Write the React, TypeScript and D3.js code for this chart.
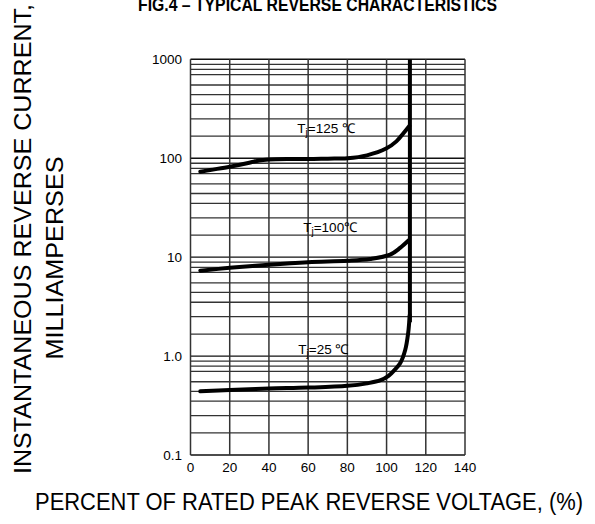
import React from "react";
import * as d3 from "d3";

const xTicks = [0, 20, 40, 60, 80, 100, 120, 140];
const yTicks = [0.1, 1, 10, 100, 1000];
const yTickLabels = ["0.1", "1.0", "10", "100", "1000"];
const gridMultipliers = [1.67, 2.5, 3.5, 4.4, 5.5, 7.0, 7.9, 8.9];

const pct125 = [5, 10, 20, 30, 35, 40, 50, 60, 70, 80, 90, 100, 105, 108.6, 111.6];
const cur125 = [73, 76, 82, 90, 95, 97, 98, 98, 99, 100, 107, 126, 148, 179, 212];

const pct100 = [5, 20, 40, 60, 80, 91.6, 101.8, 106.9, 111.3];
const cur100 = [7.3, 7.8, 8.4, 8.9, 9.2, 9.6, 10.6, 12.4, 14.8];

const pct25 = [5, 20, 40, 60, 80, 90, 97, 101, 104, 107, 109.5, 111, 111.8];
const cur25 = [0.44, 0.455, 0.47, 0.48, 0.5, 0.53, 0.57, 0.63, 0.72, 0.85, 1.15, 1.7, 2.6];

const breakdownPct = [111.9, 111.9];
const breakdownCur = [2.2, 1000];

const curveLabels = ["125 ℃", "100℃", "25 ℃"];
const labelPct = [54.5, 57.5, 55];
const labelCur = [180, 18, 1.06];

export default function App() {
  const x = d3.scaleLinear().domain([0, 140]).range([190.5, 465]);
  const y = d3.scaleLog().domain([0.1, 1000]).range([455, 59.3]);

  const line = d3
    .line<[number, number]>()
    .x((d) => x(d[0]))
    .y((d) => y(d[1]))
    .curve(d3.curveCatmullRom.alpha(0.5));
  const straight = d3
    .line<[number, number]>()
    .x((d) => x(d[0]))
    .y((d) => y(d[1]));

  const zip = (a: number[], b: number[]) => a.map((v, i) => [v, b[i]] as [number, number]);

  const minorLines: number[] = [];
  for (let k = 0; k < yTicks.length - 1; k++) {
    gridMultipliers.forEach((m) => minorLines.push(yTicks[k] * m));
  }

  const font = "'Liberation Sans', Arial, sans-serif";
  const gridColor = "#333";

  return (
    <svg
      width={595}
      height={524}
      style={{ position: "absolute", left: 0, top: 0, background: "#fff" }}
      fontFamily={font}
    >
      <rect width={595} height={524} fill="#fff" />
      {/* title */}
      <text x={138} y={10.5} fontSize={19} fontWeight="bold" textLength={359} lengthAdjust="spacingAndGlyphs">
        FIG.4 – TYPICAL REVERSE CHARACTERISTICS
      </text>

      {/* grid */}
      <g>
        {minorLines.map((v, i) => (
          <line key={"m" + i} x1={x(0)} x2={x(140)} y1={y(v)} y2={y(v)} stroke={gridColor} strokeWidth={1.3} />
        ))}
        {yTicks.map((v, i) => (
          <line key={"y" + i} x1={x(0)} x2={x(140)} y1={y(v)} y2={y(v)} stroke="#111" strokeWidth={1.4} />
        ))}
        {xTicks.map((v, i) => (
          <line key={"x" + i} x1={x(v)} x2={x(v)} y1={y(0.1)} y2={y(1000)} stroke={gridColor} strokeWidth={1.5} />
        ))}
      </g>

      {/* tick labels */}
      {yTicks.map((v, i) => (
        <text key={"yl" + i} x={182} y={y(v)} dy="0.35em" textAnchor="end" fontSize={13.5}>
          {yTickLabels[i]}
        </text>
      ))}
      {xTicks.map((v, i) => (
        <text key={"xl" + i} x={x(v)} y={471.5} textAnchor="middle" fontSize={13.5}>
          {v}
        </text>
      ))}

      {/* curves */}
      <g fill="none" stroke="#000" strokeWidth={4} strokeLinecap="round">
        <path d={line(zip(pct125, cur125)) || ""} />
        <path d={line(zip(pct100, cur100)) || ""} />
        <path d={line(zip(pct25, cur25)) || ""} />
        <path d={straight(zip(breakdownPct, breakdownCur)) || ""} strokeLinecap="butt" />
      </g>

      {/* curve labels */}
      {curveLabels.map((t, i) => (
        <text key={"cl" + i} x={x(labelPct[i])} y={y(labelCur[i])} fontSize={13.5}>
          T
          <tspan fontSize={10} dy={3}>
            j
          </tspan>
          <tspan dy={-3}>={t}</tspan>
        </text>
      ))}

      {/* axis titles */}
      <text
        transform="translate(31,474) rotate(-90)"
        fontSize={23}
        textLength={470}
        lengthAdjust="spacingAndGlyphs"
      >
        INSTANTANEOUS REVERSE CURRENT,
      </text>
      <text
        transform="translate(63,258) rotate(-90)"
        fontSize={23}
        textAnchor="middle"
        textLength={203}
        lengthAdjust="spacingAndGlyphs"
      >
        MILLIAMPERSES
      </text>
      <text x={35} y={510} fontSize={23} textLength={548} lengthAdjust="spacingAndGlyphs">
        PERCENT OF RATED PEAK REVERSE VOLTAGE, (%)
      </text>
    </svg>
  );
}
